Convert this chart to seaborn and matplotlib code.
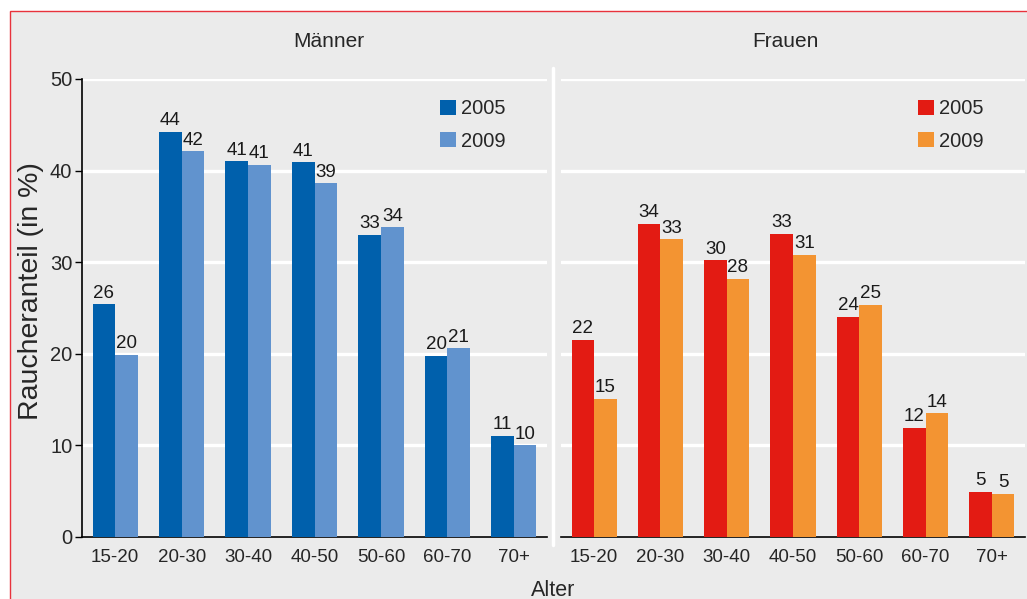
import matplotlib
matplotlib.use("Agg")
import matplotlib.pyplot as plt
import matplotlib.transforms as mtransforms
from matplotlib.patches import Rectangle
from matplotlib.lines import Line2D
import seaborn as sns
import pandas as pd

# Daten
alter = ["15-20", "20-30", "30-40", "40-50", "50-60", "60-70", "70+"]
jahre = ["2005", "2009"]

maenner_2005 = [25.4, 44.2, 41.0, 40.9, 33.0, 19.8, 11.0]
maenner_2009 = [19.9, 42.1, 40.6, 38.6, 33.8, 20.6, 10.0]
frauen_2005 = [21.5, 34.2, 30.2, 33.1, 24.0, 11.9, 4.9]
frauen_2009 = [15.1, 32.5, 28.2, 30.8, 25.3, 13.5, 4.7]

# Beschriftungen über den Balken (wie im Original gedruckt)
lab_m_2005 = ["26", "44", "41", "41", "33", "20", "11"]
lab_m_2009 = ["20", "42", "41", "39", "34", "21", "10"]
lab_f_2005 = ["22", "34", "30", "33", "24", "12", "5"]
lab_f_2009 = ["15", "33", "28", "31", "25", "14", "5"]

farben_m = ["#0060AC", "#6193CE"]
farben_f = ["#E31B13", "#F39432"]
grau = "#EBEBEB"

sns.set_style("whitegrid", {"axes.facecolor": grau, "grid.color": "white"})
plt.rcParams["font.family"] = ["Liberation Sans", "DejaVu Sans"]


def long_df(w2005, w2009):
    return pd.DataFrame({
        "Alter": alter * 2,
        "Jahr": [jahre[0]] * len(alter) + [jahre[1]] * len(alter),
        "Wert": list(w2005) + list(w2009),
    })


fig = plt.figure(figsize=(10.27, 5.99), dpi=100)
fig.patch.set_facecolor("white")

# grauer Hintergrund mit roter Kante oben/links
bg = Rectangle((10 / 1027, -0.1), 1.2, 1 - 11 / 599 + 0.1, transform=fig.transFigure,
               facecolor=grau, edgecolor="#E8323C", linewidth=1.0, zorder=-10)
fig.add_artist(bg)

ax1 = fig.add_axes([82 / 1027, 1 - 537 / 599, 465 / 1027, 458 / 599])
ax2 = fig.add_axes([561 / 1027, 1 - 537 / 599, 464 / 1027, 458 / 599])

panels = [
    (ax1, long_df(maenner_2005, maenner_2009), farben_m, [lab_m_2005, lab_m_2009], "Männer", 0.531),
    (ax2, long_df(frauen_2005, frauen_2009), farben_f, [lab_f_2005, lab_f_2009], "Frauen", 0.483),
]

offset = mtransforms.ScaledTranslation(6 / 100, 0, fig.dpi_scale_trans)

for ax, df, farben, labels, titel, tx in panels:
    sns.barplot(data=df, x="Alter", y="Wert", hue="Jahr", palette=farben,
                width=0.68, saturation=1, linewidth=0, ax=ax, zorder=3)
    for cont, lab in zip(ax.containers, labels):
        ax.bar_label(cont, labels=lab, padding=2, fontsize=13.5, color="#1a1a1a")
    ax.set_facecolor(grau)
    ax.set_ylim(0, 50)
    ax.set_xlim(-0.5, 6.5)
    ax.set_yticks([0, 10, 20, 30, 40, 50])
    ax.grid(axis="y", color="white", linewidth=2.4, zorder=0)
    ax.grid(axis="x", visible=False)
    ax.set_axisbelow(True)
    ax.set_xlabel("")
    ax.set_ylabel("")
    ax.set_xticks(range(len(alter)))
    ax.set_xticklabels(alter, fontsize=13.5)
    for t in ax.get_xticklabels():
        t.set_transform(t.get_transform() + offset)
    ax.set_xticks([i - 0.5 for i in range(len(alter) + 1)], minor=True)
    ax.tick_params(axis="x", which="major", length=0, pad=9)
    ax.tick_params(axis="x", which="minor", length=5, width=1, color="black", direction="out")
    ax.spines["bottom"].set_color("black")
    ax.spines["bottom"].set_linewidth(1.2)
    ax.spines["top"].set_visible(False)
    ax.spines["right"].set_visible(False)
    ax.set_title(titel, fontsize=15, pad=23, x=tx)
    leg = ax.legend(loc="upper right", bbox_to_anchor=(0.95, 0.995), frameon=False,
                    fontsize=14.5, handlelength=0.8, handleheight=0.8,
                    handletextpad=0.25, labelspacing=0.65)

ax1.spines["left"].set_color("black")
ax1.spines["left"].set_linewidth(1.2)
ax1.tick_params(axis="y", length=5, width=1, color="black", direction="out",
                labelsize=14.5, pad=2, left=True)
ax1.set_ylabel("Raucheranteil (in %)", fontsize=20.5)
ax1.yaxis.set_label_coords(-0.082, 0.537)

ax2.spines["left"].set_visible(False)
ax2.tick_params(axis="y", left=False, labelleft=False)

# weiße Trennlinie zwischen den Panels
fig.add_artist(Line2D([553 / 1027, 553 / 1027], [1 - 68 / 599, 1 - 545 / 599],
                      transform=fig.transFigure, color="white", linewidth=2.5))

fig.text(553 / 1027, 1 - 590 / 599, "Alter", ha="center", va="center", fontsize=15.5)

fig.savefig("out.png", dpi=100, facecolor=fig.get_facecolor())
